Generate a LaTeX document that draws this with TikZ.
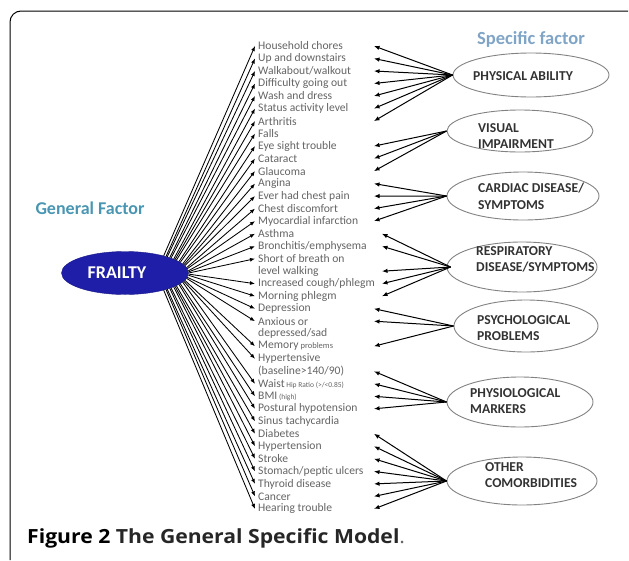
\documentclass[tikz,border=0pt]{standalone}
\usepackage{graphicx}
\usepackage{fontspec}
\setmainfont{Carlito}
\newfontfamily\capfont{Open Sans}
\usetikzlibrary{shapes.geometric,arrows.meta}
\definecolor{frailblue}{RGB}{30,30,168}
\definecolor{itemgray}{RGB}{100,100,100}
\definecolor{labgray}{RGB}{50,50,50}
\definecolor{genblue}{RGB}{74,150,178}
\definecolor{specblue}{RGB}{128,164,198}
\definecolor{ellgray}{RGB}{130,130,130}
\tikzset{
  item/.style={anchor=west, inner sep=0pt, text=itemgray, font=\fontsize{11.6}{12}\selectfont},
  spec/.style={ellipse, draw=ellgray, line width=0.9pt, inner sep=0pt},
  speclab/.style={anchor=west, inner sep=0pt, align=left, text=labgray, font=\fontsize{13.6}{16.5}\selectfont\bfseries},
  farr/.style={line width=0.85pt, -{Latex[length=5pt,width=4pt]}},
  sarr/.style={line width=1pt, -{Latex[length=5.5pt,width=4.5pt]}}
}
\begin{document}
\begin{tikzpicture}[x=1pt,y=-1pt]
\useasboundingbox (0,0) rectangle (629,560);
% frame
\draw[line width=1pt, rounded corners=11pt] (10,560) -- (10,11) -- (628,11);

% titles
\node (gen) at (90,208) {\fontsize{18}{20}\selectfont\bfseries\color{genblue}General Factor};
\node (specf) at (531,39) {\fontsize{18.5}{20}\selectfont\bfseries\color{specblue}Specific factor};

% general factor
\node[ellipse, fill=frailblue, draw=frailblue!80!black, minimum width=127pt, minimum height=43pt, inner sep=0pt,
      text=white, font=\fontsize{18}{20}\selectfont\bfseries] (frailty) at (125,273) {\hspace*{-16pt}FRAILTY};

% items
\node[item] (i0)  at (258,46.0)  {Household chores};
\node[item] (i1)  at (258,58.5)  {Up and downstairs};
\node[item] (i2)  at (258,71.0)  {Walkabout/walkout};
\node[item] (i3)  at (258,83.5)  {Difficulty going out};
\node[item] (i4)  at (258,96.0)  {Wash and dress};
\node[item] (i5)  at (258,108.5) {Status activity level};
\node[item] (i6)  at (258,121.1) {Arthritis};
\node[item] (i7)  at (258,133.6) {Falls};
\node[item] (i8)  at (258,146.1) {Eye sight trouble};
\node[item] (i9)  at (258,158.6) {Cataract};
\node[item] (i10) at (258,171.1) {Glaucoma};
\node[item] (i11) at (258,183.6) {Angina};
\node[item] (i12) at (258,196.1) {Ever had chest pain};
\node[item] (i13) at (258,208.6) {Chest discomfort};
\node[item] (i14) at (258,221.1) {Myocardial infarction};
\node[item] (i15) at (258,233.7) {Asthma};
\node[item] (i16) at (258,246.2) {Bronchitis/emphysema};
\node[item] (i17) at (258,258.7) {Short of breath on};
\node[item] (i18) at (258,271.2) {level walking};
\node[item] (i19) at (258,283.7) {Increased cough/phlegm};
\node[item] (i20) at (258,296.2) {Morning phlegm};
\node[item] (i21) at (258,308.7) {Depression};
\node[item] (i22) at (258,321.2) {Anxious or};
\node[item] (i23) at (258,333.7) {depressed/sad};
\node[item] (i24) at (258,346.2) {Memory{\fontsize{8.5}{9}\selectfont\ problems}};
\node[item] (i25) at (258,358.8) {Hypertensive};
\node[item] (i26) at (258,371.3) {(baseline>140/90)};
\node[item] (i27) at (258,383.8) {Waist{\fontsize{7.5}{9}\selectfont\ Hip Ratio (>/<0.85)}};
\node[item] (i28) at (258,396.3) {BMI{\fontsize{7.5}{9}\selectfont\ (high)}};
\node[item] (i29) at (258,408.8) {Postural hypotension};
\node[item] (i30) at (258,421.3) {Sinus tachycardia};
\node[item] (i31) at (258,433.8) {Diabetes};
\node[item] (i32) at (258,446.3) {Hypertension};
\node[item] (i33) at (258,458.8) {Stroke};
\node[item] (i34) at (258,471.4) {Stomach/peptic ulcers};
\node[item] (i35) at (258,483.9) {Thyroid disease};
\node[item] (i36) at (258,496.4) {Cancer};
\node[item] (i37) at (258,508.9) {Hearing trouble};

% arrows from general factor
\foreach \n/\a in {i0/24,i1/22.6,i2/21.2,i3/19.8,i4/18.4,i5/16.9,i6/15.5,i7/14.1,i8/12.7,i9/11.3,
  i10/9.9,i11/8.5,i12/7.1,i13/5.6,i14/4.2,i15/2.8,i16/1.4,i17/0,i19/-1.4,i20/-2.8,i21/-4.2,i22/-5.6,
  i24/-7.1,i25/-8.5,i27/-9.9,i28/-11.3,i29/-12.7,i30/-14.1,i31/-15.5,i32/-16.9,i33/-18.4,i34/-19.8,
  i35/-21.2,i36/-22.6,i37/-24}
  \draw[farr] (frailty.\a) -- ([xshift=-3pt]\n.west);

% specific factors
\node[spec, minimum width=156pt, minimum height=44pt] (phys) at (531,75) {};
\node[spec, minimum width=146pt, minimum height=42pt] (vis)  at (520,131) {};
\node[spec, minimum width=152pt, minimum height=48pt] (card) at (523,196) {};
\node[spec, minimum width=150pt, minimum height=50pt] (resp) at (522,267) {};
\node[spec, minimum width=144pt, minimum height=52pt] (psy)  at (526,326) {};
\node[spec, minimum width=146pt, minimum height=50pt] (phy)  at (520,402) {};
\node[spec, minimum width=150pt, minimum height=48pt] (oth)  at (522,481) {};

\node[speclab] (physl) at (473,76)    {PHYSICAL ABILITY};
\node[speclab] (visl)  at (478,136)   {VISUAL\\IMPAIRMENT};
\node[speclab] (cardl) at (478,196.5) {CARDIAC DISEASE/\\SYMPTOMS};
\node[speclab] (respl) at (476,259.5) {RESPIRATORY\\DISEASE/SYMPTOMS};
\node[speclab] (psyl)  at (477,328)   {PSYCHOLOGICAL\\PROBLEMS};
\node[speclab] (phyl)  at (470,401)   {PHYSIOLOGICAL\\MARKERS};
\node[speclab] (othl)  at (485,475)   {OTHER\\COMORBIDITIES};

% arrows from specific factors
\coordinate (rx) at (374,0);
\coordinate (rxr) at (382,0);
\foreach \n in {i0,i1,i2,i3,i4,i5,i6} \draw[sarr] (phys.west) -- (\n.west -| rx);
\foreach \n in {i8,i9,i10} \draw[sarr] (vis.west) -- (\n.west -| rx);
\foreach \n in {i11,i12,i13,i14} \draw[sarr] (card.west) -- (\n.west -| rx);
\foreach \n in {i15,i16,i18,i19,i20} \draw[sarr] ([xshift=4pt]resp.west) -- (\n.west -| rxr);
\foreach \n in {i21,i22,i24} \draw[sarr] (psy.west) -- (\n.west -| rx);
\foreach \n in {i26,i27,i28,i29} \draw[sarr] (phy.west) -- (\n.west -| rx);
\foreach \n in {i31,i32,i33,i34,i35,i36,i37} \draw[sarr] (oth.west) -- (\n.west -| rx);

% caption
\node[anchor=west, inner sep=0pt] (cap) at (27,538)
  {\scalebox{1.085}[1]{\capfont\fontsize{19.5}{22}\selectfont\bfseries Figure 2 {\color{black!85}The General Specific Model}{\mdseries\color{black!60}.}}};
\end{tikzpicture}
\end{document}
